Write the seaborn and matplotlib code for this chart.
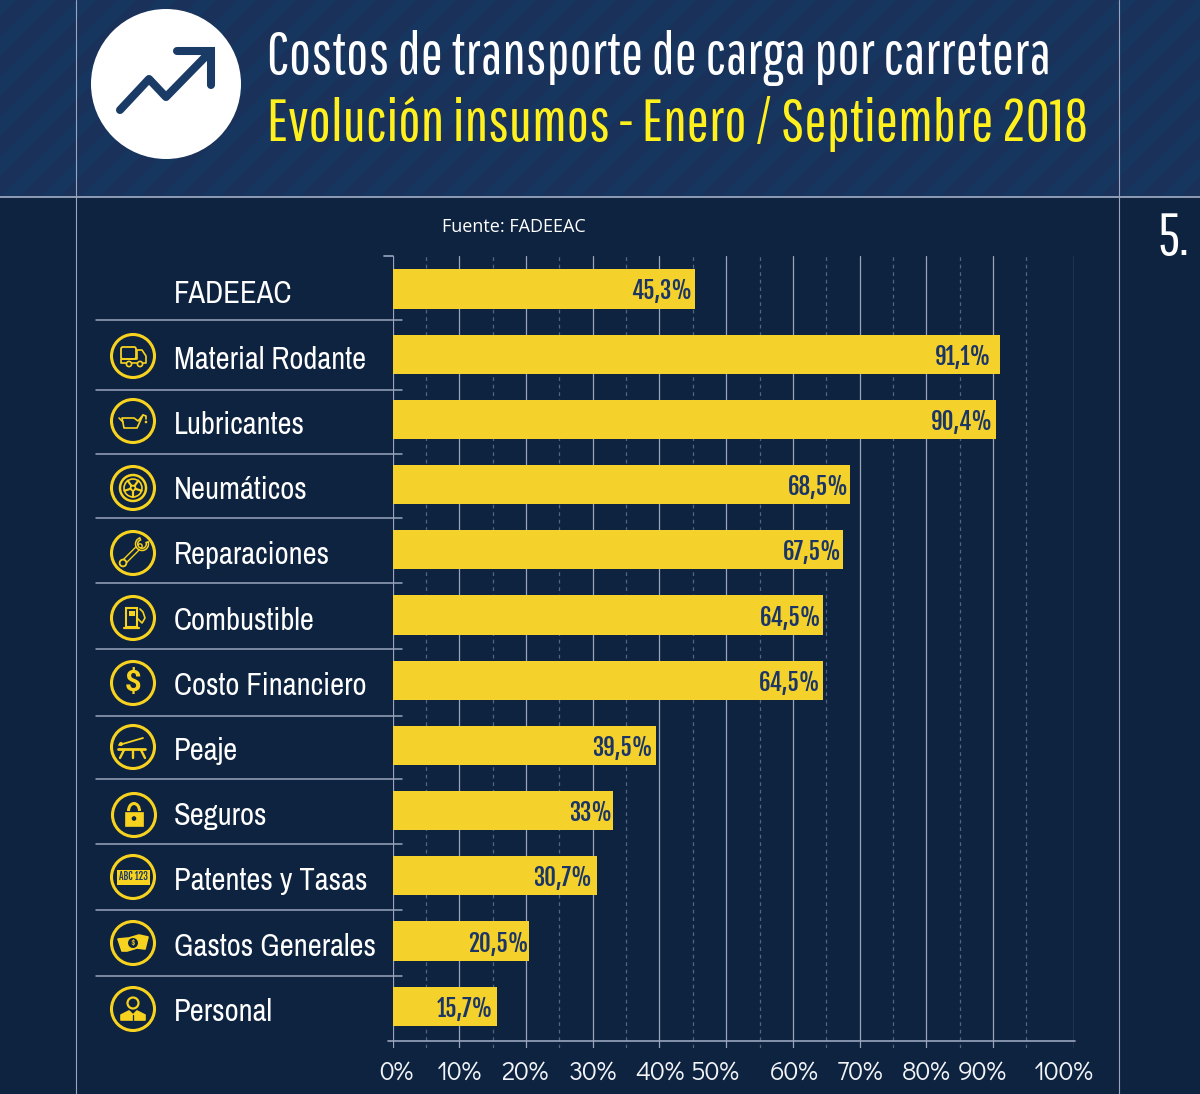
import matplotlib
matplotlib.use('Agg')
import matplotlib.pyplot as plt
import numpy as np
import pandas as pd
import seaborn as sns
from matplotlib.patches import Circle, Polygon, Rectangle, FancyBboxPatch, Arc, Wedge
from matplotlib.transforms import ScaledTranslation
import logging
logging.getLogger('matplotlib.font_manager').setLevel(logging.ERROR)

INSUMOS = ['FADEEAC', 'Material Rodante', 'Lubricantes', 'Neumáticos', 'Reparaciones', 'Combustible',
           'Costo Financiero', 'Peaje', 'Seguros', 'Patentes y Tasas', 'Gastos Generales', 'Personal']
VALORES = [45.3, 91.1, 90.4, 68.5, 67.5, 64.5, 64.5, 39.5, 33.0, 30.7, 20.5, 15.7]
ETIQUETAS = ['45,3%', '91,1%', '90,4%', '68,5%', '67,5%', '64,5%', '64,5%', '39,5%', '33%', '30,7%', '20,5%', '15,7%']
TICK_LABELS = ['0%', '10%', '20%', '30%', '40%', '50%', '60%', '70%', '80%', '90%', '100%']

# the original artwork has its last gridline past 100 and some labels shifted
GRID_SOLID = [0, 10, 20, 30, 40, 50, 60, 70, 80, 90, 102.1]
GRID_DASHED = [5, 15, 25, 35, 45, 55, 65, 75, 85, 95]
TICK_SHIFT_PX = [4, 0, -1, 0, 0, -11, 1, 0, 0, -11, -10]
LABEL_PAD_PX = [3, 9, 3, 1, 1, 1, 2, 3, 1, 5, 1, 4]

BG = '#0e2340'
HEAD = '#16365f'
HEAD_DARK = '#1a3159'
YELLOW = '#f5d22b'
ICON = '#f7d21e'
NAVY = '#1b3566'
LINE = '#9aa5bd'
# narrow faces first, the plain ones stay as fallback (fit_width keeps the text on the page)
TITLE_FONT = ['Pathway Gothic One', 'Oswald', 'Liberation Sans Narrow', 'Roboto']
LABEL_FONT = ['Archivo Narrow', 'Liberation Sans Narrow', 'Roboto']
VALUE_FONT = ['Fjalla One', 'Liberation Sans Narrow', 'Roboto']
TICK_FONT = ['Didact Gothic', 'Lato']
W, H, DPI = 1200, 1094, 100

sns.set_theme(style='dark')
plt.rcParams['font.family'] = LABEL_FONT

fig = plt.figure(figsize=(W / DPI, H / DPI), dpi=DPI, facecolor=BG)
renderer = fig.canvas.get_renderer()


def fit_width(t, px):
    t.set_fontsize(t.get_fontsize() * px / t.get_window_extent(renderer).width)


# full figure layer in pixel coordinates for the infographic furniture
bg = fig.add_axes([0, 0, 1, 1], zorder=0)
bg.set_xlim(0, W)
bg.set_ylim(H, 0)
bg.axis('off')

bg.add_patch(Rectangle((0, 0), W, 197, color=HEAD, lw=0))
for x0 in range(-220, W + 40, 40):
    bg.add_patch(Polygon([(x0, 197), (x0 + 20, 197), (x0 + 217, 0), (x0 + 197, 0)], color=HEAD_DARK, lw=0))
bg.plot([0, W], [197, 197], color=LINE, lw=1.3)
for x in (76, 1119):
    bg.plot([x, x], [0, H], color=LINE, lw=0.8)

bg.add_patch(Circle((166, 84), 75, color='white', lw=0))
bg.plot([120, 149, 166, 210], [110, 79, 97, 52], color='#1a3b66', lw=5.8, solid_capstyle='round', solid_joinstyle='round')
bg.plot([177, 211, 211], [51, 51, 85], color='#1a3b66', lw=5.8, solid_capstyle='round', solid_joinstyle='miter')

t1 = bg.text(267, 58.5, 'Costos de transporte de carga por carretera', color='white', fontsize=38, va='center', ha='left', family=TITLE_FONT)
t2 = bg.text(267, 123.5, 'Evolución insumos - Enero / Septiembre 2018', color='#fff01e', fontsize=38, va='center', ha='left', family=TITLE_FONT)
fit_width(t1, 784)
fit_width(t2, 823)
bg.text(1157, 239, '5.', color='white', fontsize=t1.get_fontsize(), va='center', ha='left', family=TITLE_FONT)
bg.text(442, 226.5, 'Fuente: FADEEAC', color='white', fontsize=13, va='center', ha='left', family=['Open Sans', 'DejaVu Sans'])

for y in (320, 390, 454, 518, 583, 649, 716, 779, 844, 910, 976):
    bg.plot([96, 402], [y, y], color=LINE, lw=1.1, zorder=5)


def ring(cx, cy):
    bg.add_patch(Circle((cx, cy), 21.5, fill=False, ec=ICON, lw=2.2))


def poly(cx, cy, pts, fill=False, lw=1.2, color=ICON):
    pts = [(cx + a, cy + b) for a, b in pts]
    bg.add_patch(Polygon(pts, closed=True, fill=fill, fc=color if fill else 'none', ec=color, lw=lw, joinstyle='round'))


def stroke(cx, cy, pts, lw=1.2, color=ICON):
    bg.plot([cx + p[0] for p in pts], [cy + p[1] for p in pts], color=color, lw=lw, solid_capstyle='round')


def truck(cx, cy):
    bg.add_patch(FancyBboxPatch((cx - 12, cy - 9), 15, 12, boxstyle='round,pad=0,rounding_size=2', fill=False, ec=ICON, lw=1.3))
    poly(cx, cy, [(4, -6), (9, -6), (13, 0), (13, 7), (-12, 7), (-12, 3), (4, 3)])
    for a in (-4, 7):
        bg.add_patch(Circle((cx + a, cy + 8), 2.6, fc=BG, ec=ICON, lw=1.2))


def oil(cx, cy):
    poly(cx, cy, [(-11, -3), (1, -3), (5, 0), (10, -6), (4, 7), (-9, 7)])
    stroke(cx, cy, [(-14, -3), (-10, 1)])
    stroke(cx, cy, [(10, -6), (13, -5), (13, -2)])
    bg.add_patch(Circle((cx + 13, cy + 1), 1.3, color=ICON, lw=0))


def tyre(cx, cy):
    for r, lw in ((13, 1.8), (9, 1.2), (2.5, 1.2)):
        bg.add_patch(Circle((cx, cy), r, fill=False, ec=ICON, lw=lw))
    for a in np.deg2rad([90, 162, 234, 306, 18]):
        stroke(cx, cy, [(2.5 * np.cos(a), 2.5 * np.sin(a)), (9 * np.cos(a), 9 * np.sin(a))], lw=1.6)


def wrench(cx, cy):
    stroke(cx, cy, [(-9, 9), (7, -7)], lw=4.2)
    stroke(cx, cy, [(-9, 9), (7, -7)], lw=2.2, color=BG)
    bg.add_patch(Wedge((cx + 9, cy - 9), 6.5, -20, 250, width=2.2, fc=BG, ec=ICON, lw=1.1, zorder=3))
    bg.add_patch(Circle((cx - 10, cy + 10), 3.4, fc=BG, ec=ICON, lw=1.3, zorder=3))


def pump(cx, cy):
    bg.add_patch(Rectangle((cx - 7, cy - 10), 11, 19, fill=False, ec=ICON, lw=1.5))
    bg.add_patch(Rectangle((cx - 4.5, cy - 7), 6, 5, color=ICON, lw=0))
    stroke(cx, cy, [(-9, 10), (6, 10)], lw=1.6)
    stroke(cx, cy, [(4, 0), (7, 3), (9, 5), (12, 0), (10, -6), (7, -9)], lw=1.2)


def dollar(cx, cy):
    bg.text(cx, cy, '$', color=ICON, fontsize=21, fontweight='bold', ha='center', va='center', family=['Roboto', 'DejaVu Sans'])


def toll(cx, cy):
    stroke(cx, cy, [(-14, -2), (10, -9)], lw=1.3)
    bg.add_patch(Circle((cx - 12, cy - 3), 2, color=ICON, lw=0))
    stroke(cx, cy, [(-15, 2), (12, 2)], lw=2)
    stroke(cx, cy, [(-9, 3), (-13, 11)], lw=1.7)
    stroke(cx, cy, [(8, 3), (12, 11)], lw=1.7)
    stroke(cx, cy, [(0, 4), (0, 11)], lw=1.7)


def lock(cx, cy):
    bg.add_patch(Rectangle((cx - 9, cy - 3), 18, 14, fc=ICON, ec=ICON, lw=0.5))
    bg.add_patch(Arc((cx, cy - 4), 11, 15, theta1=180, theta2=360, color=ICON, lw=2.2))
    bg.add_patch(Circle((cx, cy + 3.5), 2.3, color=BG, lw=0))


def plate(cx, cy):
    bg.add_patch(Rectangle((cx - 16.5, cy - 7.5), 33, 15, color=ICON, lw=0))
    t = bg.text(cx, cy, 'ABC 123', color=NAVY, fontsize=9, ha='center', va='center', family=VALUE_FONT)
    fit_width(t, 29)


def money(cx, cy):
    poly(cx, cy, [(-15, -4), (-4, -5), (6, -8), (15, -6), (12, 6), (4, 5), (-6, 8), (-11, 8)], fill=True)
    bg.add_patch(Circle((cx, cy), 5, color=BG, lw=0))
    bg.text(cx, cy, '$', color=ICON, fontsize=7, fontweight='bold', ha='center', va='center')


def person(cx, cy):
    bg.add_patch(Circle((cx, cy - 6), 5.5, fill=False, ec=ICON, lw=1.6))
    poly(cx, cy, [(-12, 11), (-12, 6), (-4, 2), (0, 6), (4, 2), (12, 6), (12, 11)], fill=True)
    stroke(cx, cy, [(0, 6), (0, 11)], lw=0.9, color=BG)


ICONOS = [(truck, 133, 356), (oil, 133, 421), (tyre, 133, 488), (wrench, 133, 553), (pump, 133, 618), (dollar, 133, 683),
          (toll, 133, 747), (lock, 134, 815), (plate, 133, 877), (money, 133, 943), (person, 133, 1009)]
for fn, cx, cy in ICONOS:
    ring(cx, cy)
    fn(cx, cy)

# chart axes, placed so that 6.67 px = 1 %
left, right, top, bottom = 392.7, 1074, 256, 1048
ax = fig.add_axes([left / W, 1 - bottom / H, (right - left) / W, (bottom - top) / H], zorder=1)
ax.patch.set_alpha(0)

df = pd.DataFrame({'insumo': INSUMOS, 'valor': VALORES})
sns.barplot(data=df, y='insumo', x='valor', orient='h', color=YELLOW, saturation=1, width=0.6, linewidth=0, ax=ax, zorder=3)
ax.set_xlim(0, 102.15)
ax.set_ylim(11.64, -0.506)
ax.set_xlabel('')
ax.set_ylabel('')
ax.grid(False)
sns.despine(ax=ax, left=True, bottom=True, top=True, right=True)

for x in GRID_SOLID:
    ax.axvline(x, color=LINE, lw=0.9, zorder=1)
for x in GRID_DASHED:
    ax.axvline(x, color='#55647f', lw=0.9, ls=(0, (3, 3)), zorder=1)
ax.plot([-0.7, 102.3], [11.53, 11.53], color=LINE, lw=1.2, zorder=2, clip_on=False)
ax.plot([-1.3, 0], [-0.506, -0.506], color=LINE, lw=1.2, clip_on=False)

for i, (v, txt) in enumerate(zip(VALORES, ETIQUETAS)):
    ax.annotate(txt, xy=(v, i), xytext=(-LABEL_PAD_PX[i] * 0.72, 0), textcoords='offset points', ha='right',
                va='center_baseline', color=NAVY, fontsize=16.5, family=VALUE_FONT, zorder=4)

ax.tick_params(axis='both', length=0)
ax.set_xticks(GRID_SOLID, TICK_LABELS)
ax.tick_params(axis='x', pad=9, labelsize=19, labelcolor='#f2f4f8')
for lab, dx in zip(ax.get_xticklabels(), TICK_SHIFT_PX):
    lab.set_family(TICK_FONT)
    lab.set_transform(lab.get_transform() + ScaledTranslation(dx / DPI, 0, fig.dpi_scale_trans))

ax.tick_params(axis='y', pad=0, labelsize=22, labelcolor='white')
for lab in ax.get_yticklabels():
    lab.set_ha('left')
    lab.set_transform(lab.get_transform() + ScaledTranslation(-(left - 174) / DPI, -3 / DPI, fig.dpi_scale_trans))

fig.savefig('out.png', dpi=DPI, facecolor=BG)
